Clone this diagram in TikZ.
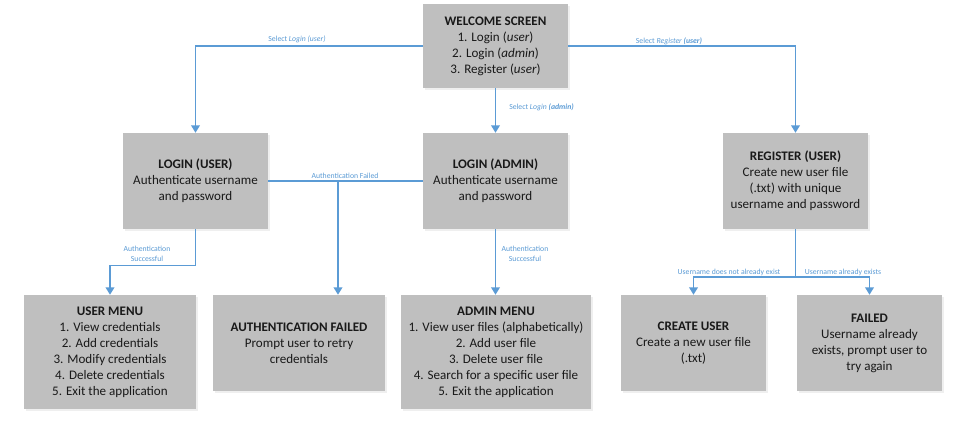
\documentclass[tikz,border=0pt]{standalone}
\usepackage{fontspec}
\setmainfont{Carlito}
\usetikzlibrary{arrows.meta,shadows}
\definecolor{boxgray}{HTML}{BFBFBF}
\definecolor{lineblue}{HTML}{5B9BD5}
\begin{document}
\begin{tikzpicture}[x=0.75pt,y=-0.75pt,
 box/.style={fill=boxgray, inner sep=0pt, align=center, font=\fontsize{9.8}{12}\selectfont, text=black!90,
   drop shadow={opacity=0.12, shadow xshift=1.2pt, shadow yshift=-1.2pt}},
 conn/.style={draw=lineblue, line width=1pt},
 arr/.style={conn, -{Triangle[width=6.5pt,length=5.5pt]}},
 lbl/.style={text=lineblue, font=\fontsize{5.8}{7.5}\selectfont, inner sep=0pt, align=center}]
\fill[white] (0,0) rectangle (963,424);
\useasboundingbox (0,0) rectangle (963,424);

\node[box, minimum width=108.75pt, minimum height=63pt] (welcome) at (495.5,46)
  {\textbf{WELCOME SCREEN}\\1. Login (\textit{user})\\2. Login (\textit{admin})\\3. Register (\textit{user})};
\node[box, minimum width=108.75pt, minimum height=72pt] (luser) at (195.5,181)
  {\textbf{LOGIN (USER)}\\Authenticate username\\and password};
\node[box, minimum width=108.75pt, minimum height=72pt] (ladmin) at (495.5,181)
  {\textbf{LOGIN (ADMIN)}\\Authenticate username\\and password};
\node[box, minimum width=108.75pt, minimum height=72pt] (reg) at (795.5,181)
  {\textbf{REGISTER (USER)}\\Create new user file\\(.txt) with unique\\username and password};
\node[box, minimum width=129pt, minimum height=85.5pt] (umenu) at (110,352)
  {\textbf{USER MENU}\\1. View credentials\\2. Add credentials\\3. Modify credentials\\4. Delete credentials\\5. Exit the application};
\node[box, minimum width=129pt, minimum height=72pt] (afail) at (299,343)
  {\textbf{AUTHENTICATION FAILED}\\Prompt user to retry\\credentials};
\node[box, minimum width=142.5pt, minimum height=85.5pt] (amenu) at (496,352)
  {\textbf{ADMIN MENU}\\1. View user files (alphabetically)\\2. Add user file\\3. Delete user file\\4. Search for a specific user file\\5. Exit the application};
\node[box, minimum width=108.75pt, minimum height=72pt] (cuser) at (693.5,343)
  {\textbf{CREATE USER}\\Create a new user file\\(.txt)};
\node[box, minimum width=108.75pt, minimum height=72pt] (rfail) at (869.5,343)
  {\textbf{FAILED}\\Username already\\exists, prompt user to\\try again};

\coordinate (af) at (338,181);
\coordinate (rj) at (795.5,277);

\draw[arr] (welcome.west) -| (luser.north);
\draw[arr] (welcome.south) -- (ladmin.north);
\draw[arr] (welcome.east) -| (reg.north);
\draw[conn] (luser.east) -- (ladmin.west);
\draw[arr] (af) -- (af |- afail.north);
\draw[arr] (luser.south) -- ++(0,36) -| (umenu.north);
\draw[arr] (ladmin.south) -- (ladmin.south |- amenu.north);
\draw[conn] (reg.south) -- (rj);
\draw[arr] (rj) -| (cuser.north);
\draw[arr] (rj) -| (rfail.north);

\node[lbl] (l1) at (297,39) {Select \textit{Login (user)}};
\node[lbl, anchor=west] (l2) at (509,107) {Select \textit{Login \textbf{(admin)}}};
\node[lbl] (l3) at (669,41) {Select \textit{Register \textbf{(user)}}};
\node[lbl] (l4) at (345,176) {Authentication Failed};
\node[lbl] (l5) at (147,254) {Authentication\\Successful};
\node[lbl] (l6) at (525,254) {Authentication\\Successful};
\node[lbl] (l7) at (729,272) {Username does not already exist};
\node[lbl] (l8) at (843,272) {Username already exists};
\end{tikzpicture}
\end{document}
